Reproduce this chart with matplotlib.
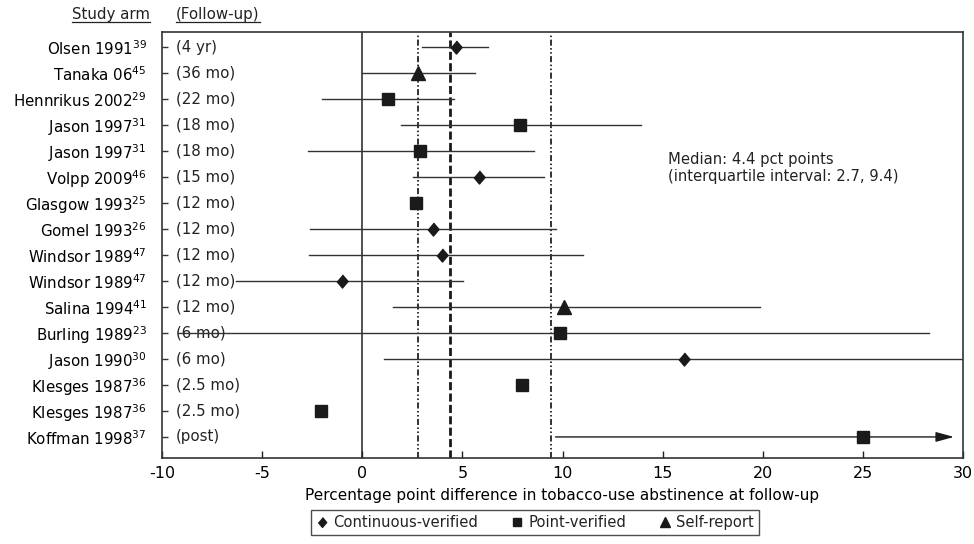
import numpy as np
import matplotlib
matplotlib.use('Agg')
import matplotlib.pyplot as plt
from matplotlib.lines import Line2D
from matplotlib import transforms

# the original uses a letter-spaced Arial; DejaVu Sans gets closest to its width
plt.rcParams['font.family'] = ['DejaVu Sans']
plt.rcParams['text.color'] = '#222222'

# --- data ---
studies = ['Olsen 1991', 'Tanaka 06', 'Hennrikus 2002', 'Jason 1997', 'Jason 1997', 'Volpp 2009',
           'Glasgow 1993', 'Gomel 1993', 'Windsor 1989', 'Windsor 1989', 'Salina 1994', 'Burling 1989',
           'Jason 1990', 'Klesges 1987', 'Klesges 1987', 'Koffman 1998']
refs = [39, 45, 29, 31, 31, 46, 25, 26, 47, 47, 41, 23, 30, 36, 36, 37]
followup = ['(4 yr)', '(36 mo)', '(22 mo)', '(18 mo)', '(18 mo)', '(15 mo)', '(12 mo)', '(12 mo)',
            '(12 mo)', '(12 mo)', '(12 mo)', '(6 mo)', '(6 mo)', '(2.5 mo)', '(2.5 mo)', '(post)']
diff = [4.7, 2.8, 1.3, 7.9, 2.9, 5.85, 2.7, 3.55, 4.0, -1.0, 10.05, 9.9, 16.05, 8.0, -2.05, 25.0]
lower = [3.0, 0.0, -2.0, 1.95, -2.7, 2.55, np.nan, -2.6, -2.65, -6.3, 1.55, -9.2, 1.1, np.nan, np.nan, 9.65]
upper = [6.3, 5.65, 4.6, 13.9, 8.6, 9.1, np.nan, 9.7, 11.0, 5.05, 19.85, 28.3, 30.0, np.nan, np.nan, 29.55]
measure = ['cont', 'self', 'point', 'point', 'point', 'cont', 'point', 'cont', 'cont', 'cont',
           'self', 'point', 'cont', 'point', 'point', 'point']
arrow_rows = [15]  # open-ended interval

median = 4.4
q1, q3 = 2.8, 9.45
x_ticks = [-10, -5, 0, 5, 10, 15, 20, 25, 30]

diamond = [(0, 1), (0.85, 0), (0, -1), (-0.85, 0)]
marker_style = {'cont': (diamond, 9.4), 'point': ('s', 8.2), 'self': ('^', 9.5)}
legend_names = {'cont': 'Continuous-verified', 'point': 'Point-verified', 'self': 'Self-report'}
ink = '#1a1a1a'

fig = plt.figure(figsize=(9.74, 5.44), dpi=100)
ax = fig.add_axes([162 / 974, 1 - 458 / 544, (963 - 162) / 974, (458 - 32) / 544])

rows = np.arange(len(studies))

# reference lines
ax.axvline(0, color='#222222', lw=1.1, zorder=1)
ax.axvline(median, color=ink, lw=2.0, ls=(0, (2.9, 1.2)), zorder=1)
for q in (q1, q3):
    ax.axvline(q, ymax=0.993, color=ink, lw=1.25, ls=(0, (3.5, 1.4, 0.9, 1.4, 0.9, 1.4)), zorder=1)

# confidence intervals
for r in rows:
    lo, hi = lower[r], upper[r]
    if np.isnan(lo):
        continue
    if r in arrow_rows:
        ax.annotate('', xy=(hi, r), xytext=(lo, r),
                    arrowprops=dict(arrowstyle='-|>,head_length=1.1,head_width=0.3',
                                    color=ink, lw=1, shrinkA=0, shrinkB=0), zorder=2)
    else:
        ax.plot([lo, hi], [r, r], color='#333333', lw=1, zorder=2, clip_on=True)

# point estimates
for m in ('cont', 'point', 'self'):
    idx = [r for r in rows if measure[r] == m]
    mk, ms = marker_style[m]
    ax.plot([diff[r] for r in idx], idx, ls='none', marker=mk, ms=ms, color=ink, zorder=3)

ax.set_xlim(-10, 30)
ax.set_ylim(15.81, -0.58)
ax.set_xticks(x_ticks)
ax.set_xticklabels([str(t) for t in x_ticks], fontsize=11.5)
ax.tick_params(axis='x', direction='in', length=5, width=1, color='#222222', pad=6)
ax.set_yticks(rows)
ax.set_yticklabels([f'{s}$^{{{n}}}$' for s, n in zip(studies, refs)], fontsize=10.8)
ax.tick_params(axis='y', direction='in', length=4, width=1, color='#333333', pad=11)
for sp in ax.spines.values():
    sp.set_color('#333333')
    sp.set_linewidth(1.2)

ax.set_xlabel('Percentage point difference in tobacco-use abstinence at follow-up', fontsize=11, labelpad=5)

# follow-up labels inside the axes
trans = transforms.blended_transform_factory(ax.transAxes, ax.transData)
for r in rows:
    ax.text(0.017, r, followup[r], transform=trans, fontsize=10.8, va='center', ha='left', zorder=1)

# headers (underlined by hand, mathtext has no \underline)
h1 = fig.text(150 / 974, 1 - 15 / 544, 'Study arm', fontsize=10.8, ha='right', va='center')
h2 = fig.text(176 / 974, 1 - 15 / 544, '(Follow-up)', fontsize=10.8, ha='left', va='center')

ax.text(15.25, 4.65, 'Median: 4.4 pct points\n(interquartile interval: 2.7, 9.4)',
        fontsize=10.6, ha='left', va='center', linespacing=1.2)

handles = [Line2D([], [], ls='none', marker=marker_style[m][0], ms=marker_style[m][1] * 0.75,
                  color=ink, label=legend_names[m]) for m in ('cont', 'point', 'self')]
leg = fig.legend(handles=handles, loc='center', bbox_to_anchor=(535 / 974, 21.5 / 544), ncol=3,
                 fontsize=10.6, frameon=True, fancybox=False, handlelength=0.8, handletextpad=0.4,
                 columnspacing=2.2, borderpad=0.35)
leg.get_frame().set_edgecolor('#222222')
leg.get_frame().set_linewidth(1)

fig.canvas.draw()
renderer = fig.canvas.get_renderer()
inv = fig.transFigure.inverted()
for h in (h1, h2):
    bb = h.get_window_extent(renderer)
    (x0, y0), (x1, _) = inv.transform([(bb.x0, bb.y0 + 1), (bb.x1, bb.y0)])
    fig.add_artist(Line2D([x0, x1], [y0, y0], transform=fig.transFigure, color='#222222', lw=0.9))

fig.savefig('out.png', dpi=100)
